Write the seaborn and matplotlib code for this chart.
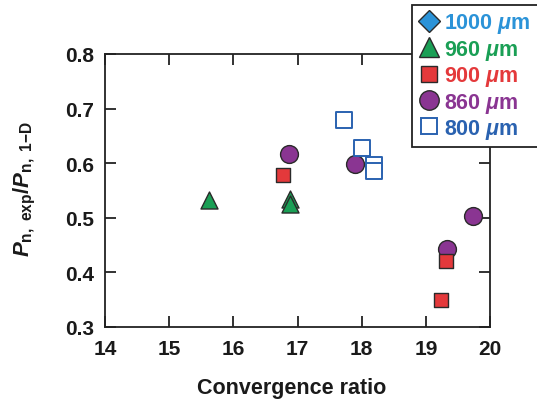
import matplotlib
matplotlib.use("Agg")
import matplotlib.pyplot as plt
from matplotlib.lines import Line2D
import seaborn as sns
import pandas as pd

# Measured normalized yield vs. convergence ratio, grouped by shell diameter
cr_960 = [15.62, 16.89, 16.89]
yr_960 = [0.532, 0.535, 0.526]

cr_900 = [16.77, 19.31, 19.23]
yr_900 = [0.579, 0.420, 0.350]

cr_860 = [16.87, 17.89, 19.73, 19.33]
yr_860 = [0.617, 0.599, 0.503, 0.443]

cr_800 = [17.73, 18.00, 18.19, 18.19]
yr_800 = [0.679, 0.628, 0.597, 0.586]

legend_labels = ["1000 $\\mu$m", "960 $\\mu$m", "900 $\\mu$m", "860 $\\mu$m", "800 $\\mu$m"]
x_ticks = [14, 15, 16, 17, 18, 19, 20]
y_ticks = [0.3, 0.4, 0.5, 0.6, 0.7, 0.8]

sns.set_theme(style="white")
plt.rcParams["font.family"] = ["Liberation Sans", "DejaVu Sans"]
plt.rcParams["font.weight"] = "bold"
plt.rcParams["mathtext.fontset"] = "custom"
plt.rcParams["mathtext.rm"] = "Liberation Sans:bold"
plt.rcParams["mathtext.it"] = "Liberation Sans:bold:italic"
plt.rcParams["mathtext.bf"] = "Liberation Sans:bold"

c_blue_light = "#2b93d8"
c_green = "#1a9f55"
c_red = "#e4393b"
c_purple = "#8a3592"
c_blue_dark = "#2a62b0"
edge = "#2a2a2a"
ink = "#1a1a1a"

fig = plt.figure(figsize=(5.37, 4.02), dpi=100)
ax = fig.add_axes([105 / 537, 1 - 328 / 402, 385 / 537, 273 / 402])

def frame(x, y):
    return pd.DataFrame({"cr": x, "ratio": y})

# circles sit underneath, squares on top of them
sns.scatterplot(data=frame(cr_860, yr_860), x="cr", y="ratio", ax=ax, marker="o",
                s=165, color=c_purple, edgecolor=edge, linewidth=1.0, zorder=3)
sns.scatterplot(data=frame(cr_960, yr_960), x="cr", y="ratio", ax=ax, marker="^",
                s=150, color=c_green, edgecolor=edge, linewidth=1.0, zorder=3)
sns.scatterplot(data=frame(cr_900, yr_900), x="cr", y="ratio", ax=ax, marker="s",
                s=110, color=c_red, edgecolor=edge, linewidth=1.0, zorder=4)
sns.scatterplot(data=frame(cr_800, yr_800), x="cr", y="ratio", ax=ax, marker="s",
                s=120, facecolor="white", edgecolor=c_blue_dark, linewidth=1.4, zorder=5)

ax.set_xlim(14, 20)
ax.set_ylim(0.3, 0.8)
ax.set_xticks(x_ticks)
ax.set_yticks(y_ticks)
ax.set_xticklabels([str(t) for t in x_ticks])
ax.set_yticklabels([f"{t:.1f}" for t in y_ticks])
ax.tick_params(axis="both", direction="in", length=8, width=1.3, color="#222222",
               labelsize=15, top=True, right=True, bottom=True, left=True)
ax.tick_params(axis="x", pad=9)
ax.tick_params(axis="y", pad=8)
for lab in ax.get_xticklabels() + ax.get_yticklabels():
    lab.set_fontweight("bold")
    lab.set_color(ink)
for sp in ax.spines.values():
    sp.set_visible(True)
    sp.set_color("#222222")
    sp.set_linewidth(1.3)

ax.set_xlabel("Convergence ratio", fontsize=15.5, fontweight="bold", color=ink)
ax.set_ylabel("$P_{\\mathrm{n,\\ exp}}/P_{\\mathrm{n,\\ 1{-}D}}$", fontsize=16, color=ink)
ax.xaxis.set_label_coords(0.485, -0.182)
ax.yaxis.set_label_coords(-0.175, 0.51)

handles = [
    Line2D([], [], linestyle="none", marker="D", markersize=11, markerfacecolor=c_blue_light,
           markeredgecolor=edge, markeredgewidth=1.0),
    Line2D([], [], linestyle="none", marker="^", markersize=14, markerfacecolor=c_green,
           markeredgecolor=edge, markeredgewidth=1.0),
    Line2D([], [], linestyle="none", marker="s", markersize=11.5, markerfacecolor=c_red,
           markeredgecolor=edge, markeredgewidth=1.0),
    Line2D([], [], linestyle="none", marker="o", markersize=14, markerfacecolor=c_purple,
           markeredgecolor=edge, markeredgewidth=1.0),
    Line2D([], [], linestyle="none", marker="s", markersize=12, markerfacecolor="white",
           markeredgecolor=c_blue_dark, markeredgewidth=1.4),
]
leg = fig.legend(handles, legend_labels, loc="upper left", mode="expand",
                 bbox_to_anchor=(412 / 537, 146 / 402, 0.3, 250 / 402), fancybox=False,
                 frameon=True, framealpha=1.0, edgecolor="#222222", fontsize=15.5,
                 handletextpad=0.2, handlelength=1.0, labelspacing=0.11, borderpad=0.3,
                 borderaxespad=0.0)
leg.get_frame().set_linewidth(1.3)
leg.set_zorder(10)
for txt, col in zip(leg.get_texts(), [c_blue_light, c_green, c_red, c_purple, c_blue_dark]):
    txt.set_color(col)
    txt.set_fontweight("bold")

fig.savefig("out.png", dpi=100)
